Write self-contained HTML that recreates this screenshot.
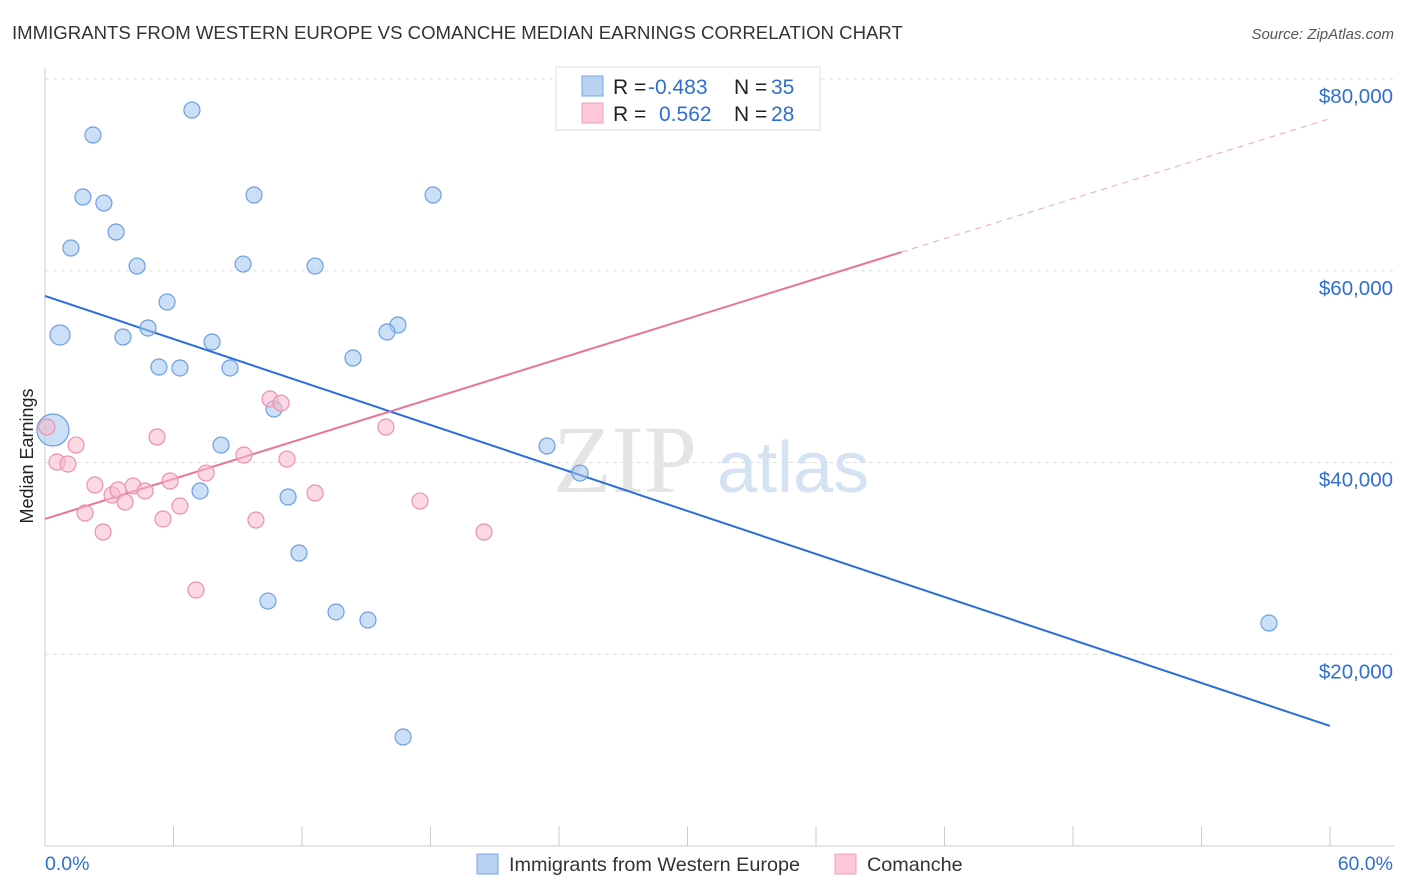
<!DOCTYPE html>
<html><head><meta charset="utf-8"><style>
body{margin:0;background:#fff;font-family:"Liberation Sans",sans-serif;}
#c{position:absolute;left:0;top:0;}
</style></head><body>
<svg id="c" width="1406" height="892">
<text x="12" y="39" font-size="18.6" fill="#333">IMMIGRANTS FROM WESTERN EUROPE VS COMANCHE MEDIAN EARNINGS CORRELATION CHART</text>
<text x="1394" y="39" font-size="15" fill="#555" font-style="italic" text-anchor="end">Source: ZipAtlas.com</text>
<text x="33" y="456" font-size="18" fill="#222" text-anchor="middle" transform="rotate(-90 33 456)">Median Earnings</text>
<g id="grid"></g>
<g><text x="553" y="492" font-size="96" fill="#e4e4e4" font-family="Liberation Serif,serif">ZIP</text><text x="717" y="492" font-size="72" fill="#d4e2f4">atlas</text></g>
<g id="lines"></g>
<g id="pts"></g>
<g>
<rect x="556" y="67" width="264" height="63" fill="#fff" stroke="#ddd"/>
<rect x="582" y="76" width="21" height="20" fill="#b9d2f4" stroke="#7aa6e4"/>
<rect x="582" y="103" width="21" height="20" fill="#fcc8d8" stroke="#eca0b8"/>
<text y="94" font-size="21" fill="#222"><tspan x="613">R = </tspan><tspan x="648" fill="#2f6fd0">-0.483</tspan><tspan x="734">N = </tspan><tspan x="771" fill="#2f6fd0">35</tspan></text>
<text y="121" font-size="21" fill="#222"><tspan x="613">R = </tspan><tspan x="659" fill="#2f6fd0">0.562</tspan><tspan x="734">N = </tspan><tspan x="771" fill="#2f6fd0">28</tspan></text>
</g>
<g>
<rect x="477" y="854" width="21" height="20" fill="#b9d2f4" stroke="#7aa6e4"/>
<text x="509" y="871" font-size="19.8" fill="#333">Immigrants from Western Europe</text>
<rect x="835" y="854" width="21" height="20" fill="#fcc8d8" stroke="#eca0b8"/>
<text x="867" y="871" font-size="19.8" fill="#333">Comanche</text>
</g>
</svg>
<script>
const yTicks=[20000,40000,60000,80000];
const yTickLabels=["$20,000","$40,000","$60,000","$80,000"];
const xEndLabels=["0.0%","60.0%"];
const blueX=[0.37,0.70,2.24,6.86,1.77,2.75,1.21,3.32,4.30,9.76,9.25,12.61,18.12,5.70,3.64,4.81,7.80,5.32,6.30,8.64,16.48,15.97,14.38,10.69,8.22,23.44,24.98,7.24,11.35,11.86,10.41,13.59,15.08,16.72,57.15];
const blueY=[43390,53300,74160,76760,67690,67060,62370,64040,60490,67900,60700,60490,67900,56740,53090,54030,52570,49960,49860,49860,54340,53610,50900,45580,41820,41720,38900,37030,36400,30560,25550,24410,23570,11370,23260];
const blueR=[16,10,8,8,8,8,8,8,8,8,8,8,8,8,8,8,8,8,8,8,8,8,8,8,8,8,8,8,8,8,8,8,8,8,8];
const pinkX=[0.09,0.56,1.07,1.45,1.87,2.33,2.71,3.13,3.41,3.74,4.11,4.67,5.23,5.51,5.84,6.30,7.05,7.52,9.29,9.85,10.51,11.02,11.30,12.61,15.92,17.51,20.50,31.05];
const pinkY=[43700,40050,39840,41820,34730,37650,32750,36610,37130,35880,37550,37030,42660,34110,38070,35460,26700,38900,40780,34000,46620,46200,40360,36820,43700,35980,32750,77800];
const blueTrend=[57370,-0.7475e3];
const pinkTrend=[34110,696];
const pinkSolidEnd=40;
const X=v=>45+v/60*1285, Y=v=>846-v/20000*191.75;
const ns="http://www.w3.org/2000/svg";
function mk(p,t,a){const e=document.createElementNS(ns,t);for(const k in a)e.setAttribute(k,a[k]);p.appendChild(e);return e;}
const g=document.getElementById('grid');
yTicks.forEach((t,i)=>{
 const l=mk(g,'line',{x1:45,x2:1394,y1:Y(t),y2:Y(t),stroke:'#ddd','stroke-dasharray':'4,4'});
 
 
 const tx=mk(g,'text',{x:1393,y:Y(t)+24,'font-size':20.5,fill:'#2f6fd0','text-anchor':'end'});tx.textContent=yTickLabels[i];
 
 
});
const ax=mk(g,'line',{x1:45,x2:1394,y1:846,y2:846,stroke:'#ccc'});


const ay=mk(g,'line',{x1:45,x2:45,y1:68,y2:846,stroke:'#ccc'});


for(let i=0;i<=10;i++){const t=mk(g,'line',{x1:X(i*6),x2:X(i*6),y1:826,y2:846,stroke:'#ccc'});
 
 }
[0,60].forEach((v,i)=>{const t=mk(g,'text',{x:i?1393:45,y:870,'font-size':19.5,fill:'#2f6fd0','text-anchor':i?'end':'start'});t.textContent=xEndLabels[i];
 
 });
const pg=document.getElementById('pts');
blueX.forEach((x,i)=>{const c=mk(pg,'circle',{cx:X(x),cy:Y(blueY[i]),r:blueR[i],fill:'rgba(160,196,240,0.55)',stroke:'#6d9fe0','stroke-width':1.2});
 
 });
pinkX.forEach((x,i)=>{const c=mk(pg,'circle',{cx:X(x),cy:Y(pinkY[i]),r:8,fill:'rgba(248,184,204,0.55)',stroke:'#eb91b0','stroke-width':1.2});
 
 });
const lg=document.getElementById('lines');
const bl=mk(lg,'line',{x1:X(0),y1:Y(blueTrend[0]),x2:X(60),y2:Y(blueTrend[0]+blueTrend[1]*60),stroke:'#2a6fd6','stroke-width':2});


const pl=mk(lg,'line',{x1:X(0),y1:Y(pinkTrend[0]),x2:X(pinkSolidEnd),y2:Y(pinkTrend[0]+pinkTrend[1]*pinkSolidEnd),stroke:'#e8749a','stroke-width':2});


const pd=mk(lg,'line',{x1:X(pinkSolidEnd),y1:Y(pinkTrend[0]+pinkTrend[1]*pinkSolidEnd),x2:X(60),y2:Y(pinkTrend[0]+pinkTrend[1]*60),stroke:'#f0a4bd','stroke-width':1,'stroke-dasharray':'6,5'});


</script>
</body></html>
